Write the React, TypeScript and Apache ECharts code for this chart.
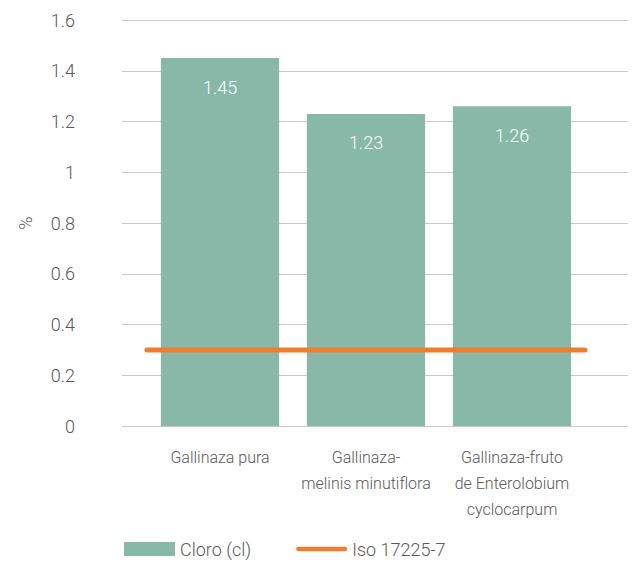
import React, { useEffect, useRef } from "react";
import * as echarts from "echarts";

const categories = [
  "Gallinaza pura",
  "Gallinaza-\nmelinis minutiflora",
  "Gallinaza-fruto\nde Enterolobium\ncyclocarpum",
];
const cloroValues = [1.45, 1.23, 1.26];
const isoValues = [0.3, 0.3, 0.3];
const yTicks = { min: 0, max: 1.6, interval: 0.2 };

const FONT = "Roboto, sans-serif";
const TXT = "#595959";
const W = 300;

export default function App() {
  const ref = useRef<HTMLDivElement>(null);
  useEffect(() => {
    if (!ref.current) return;
    const chart = echarts.init(ref.current, undefined, { renderer: "svg" });
    chart.setOption({
      animation: false,
      textStyle: { fontFamily: FONT, color: TXT, fontWeight: W },
      grid: [
        { left: 122, right: 4, top: 20, bottom: 136 },
        { left: 147, width: 438, top: 20, bottom: 136 },
      ],
      xAxis: [
        { gridIndex: 0, type: "category", data: categories, show: false },
        {
          gridIndex: 1,
          type: "category",
          data: categories,
          axisLine: { show: false },
          axisTick: { show: false },
          axisLabel: {
            color: TXT,
            fontFamily: FONT,
            fontWeight: W,
            fontSize: 16,
            lineHeight: 26,
            margin: 18,
            interval: 0,
          },
        },
        {
          gridIndex: 1,
          type: "category",
          data: categories,
          boundaryGap: false,
          show: false,
        },
      ],
      yAxis: [
        {
          gridIndex: 0,
          type: "value",
          min: yTicks.min,
          max: yTicks.max,
          interval: yTicks.interval,
          axisLine: { show: false },
          axisTick: { show: false },
          axisLabel: {
            color: TXT,
            fontFamily: FONT,
            fontWeight: W,
            fontSize: 18,
            margin: 47,
            formatter: (v: number) => String(Math.round(v * 10) / 10),
          },
          splitLine: { lineStyle: { color: "#c8c8c8", width: 1 } },
          name: "%",
          nameLocation: "middle",
          nameGap: 88,
          nameTextStyle: { color: TXT, fontFamily: FONT, fontWeight: W, fontSize: 18 },
        },
        {
          gridIndex: 1,
          type: "value",
          min: yTicks.min,
          max: yTicks.max,
          interval: yTicks.interval,
          show: false,
          splitLine: { show: false },
        },
      ],
      legend: {
        left: 124,
        top: 540,
        padding: 0,
        itemWidth: 51,
        itemHeight: 14,
        itemGap: 45,
        textStyle: { color: TXT, fontFamily: FONT, fontWeight: W, fontSize: 18 },
        data: [
          { name: "Cloro (cl)", icon: "rect" },
          {
            name: "Iso 17225-7",
            icon: "path://M2.5,0 H52.5 A2.5,2.5 0 0 1 52.5,5 H2.5 A2.5,2.5 0 0 1 2.5,0 Z",
          },
        ],
      },
      series: [
        {
          name: "Cloro (cl)",
          type: "bar",
          xAxisIndex: 1,
          yAxisIndex: 1,
          data: cloroValues,
          barCategoryGap: "19%",
          itemStyle: { color: "#88b8a8" },
          label: {
            show: true,
            position: "insideTop",
            distance: 20,
            color: "#ffffff",
            fontFamily: FONT,
            fontWeight: W,
            fontSize: 18,
          },
        },
        {
          name: "Iso 17225-7",
          type: "line",
          xAxisIndex: 2,
          yAxisIndex: 1,
          data: isoValues,
          symbol: "none",
          lineStyle: { color: "#ed7d31", width: 5, cap: "round" },
          itemStyle: { color: "#ed7d31" },
        },
      ],
    });
    return () => chart.dispose();
  }, []);
  return (
    <div
      ref={ref}
      style={{ position: "absolute", left: 0, top: 0, width: 632, height: 562 }}
    />
  );
}
